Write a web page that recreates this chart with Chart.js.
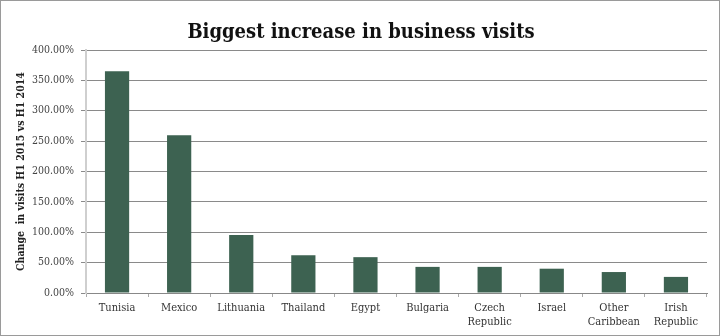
<!DOCTYPE html>
<html>
<head>
<meta charset="utf-8">
<script src="https://cdn.jsdelivr.net/npm/chart.js@4"></script>
<style>
  html, body { margin: 0; padding: 0; background: #fff; }
  #frame { width: 718px; height: 334px; border: 1px solid #9a9a9a; position: relative; }
  canvas { display: block; }
</style>
</head>
<body>
<div id="frame"><canvas id="visitas" width="718" height="334"></canvas></div>
<script>
// Destinos e variação das visitas de negócios (H1 2015 vs H1 2014)
const destinos = [['Tunisia'], ['Mexico'], ['Lithuania'], ['Thailand'], ['Egypt'], ['Bulgaria'], ['Czech', 'Republic'], ['Israel'], ['Other', 'Caribbean'], ['Irish', 'Republic']];
const variacao = [365, 259.5, 95.5, 62, 59, 43, 43, 40, 34.5, 26.5];
const tituloEixoY = 'Change  in visits H1 2015 vs H1 2014';

const corBarra = '#3d6251';
const fonteSerif = "'DejaVu Serif Condensed', 'DejaVu Serif', serif";

const ctx = document.getElementById('visitas').getContext('2d');
const grafico = new Chart(ctx, {
    type: 'bar',
    data: {
        labels: destinos,
        datasets: [{
            data: variacao,
            backgroundColor: corBarra,
            borderWidth: 0,
            categoryPercentage: 1,
            barPercentage: 0.39
        }]
    },
    options: {
        responsive: false,
        animation: false,
        layout: { padding: { left: 14, right: 12, top: 0, bottom: 0 } },
        plugins: {
            legend: { display: false },
            tooltip: { enabled: false },
            title: {
                display: true,
                text: 'Biggest increase in business visits',
                color: '#111',
                font: { family: fonteSerif, size: 20, weight: 'bold' },
                padding: { top: 20, bottom: 5 }
            }
        },
        scales: {
            x: {
                offset: true,
                grid: {
                    offset: true,
                    drawOnChartArea: false,
                    drawTicks: true,
                    tickLength: 4,
                    color: '#aaa'
                },
                border: { color: '#888', width: 1 },
                ticks: {
                    color: '#333',
                    font: { family: fonteSerif, size: 11 },
                    padding: 5,
                    maxRotation: 0,
                    autoSkip: false
                },
                afterFit: s => { s.height = 42; }
            },
            y: {
                min: 0,
                max: 400,
                ticks: {
                    stepSize: 50,
                    color: '#444',
                    font: { family: fonteSerif, size: 10.5 },
                    padding: 7,
                    callback: v => v.toFixed(2) + '%'
                },
                grid: {
                    color: '#8a8a8a',
                    tickLength: 5,
                    lineWidth: 1
                },
                border: { color: '#cfcfcf', width: 2 },
                title: {
                    display: true,
                    text: tituloEixoY,
                    color: '#222',
                    font: { family: fonteSerif, size: 10.5, weight: 'bold' },
                    padding: { top: 0, bottom: 4 }
                },
                afterFit: s => { s.width = 71; }
            }
        }
    }
});
</script>
</body>
</html>
